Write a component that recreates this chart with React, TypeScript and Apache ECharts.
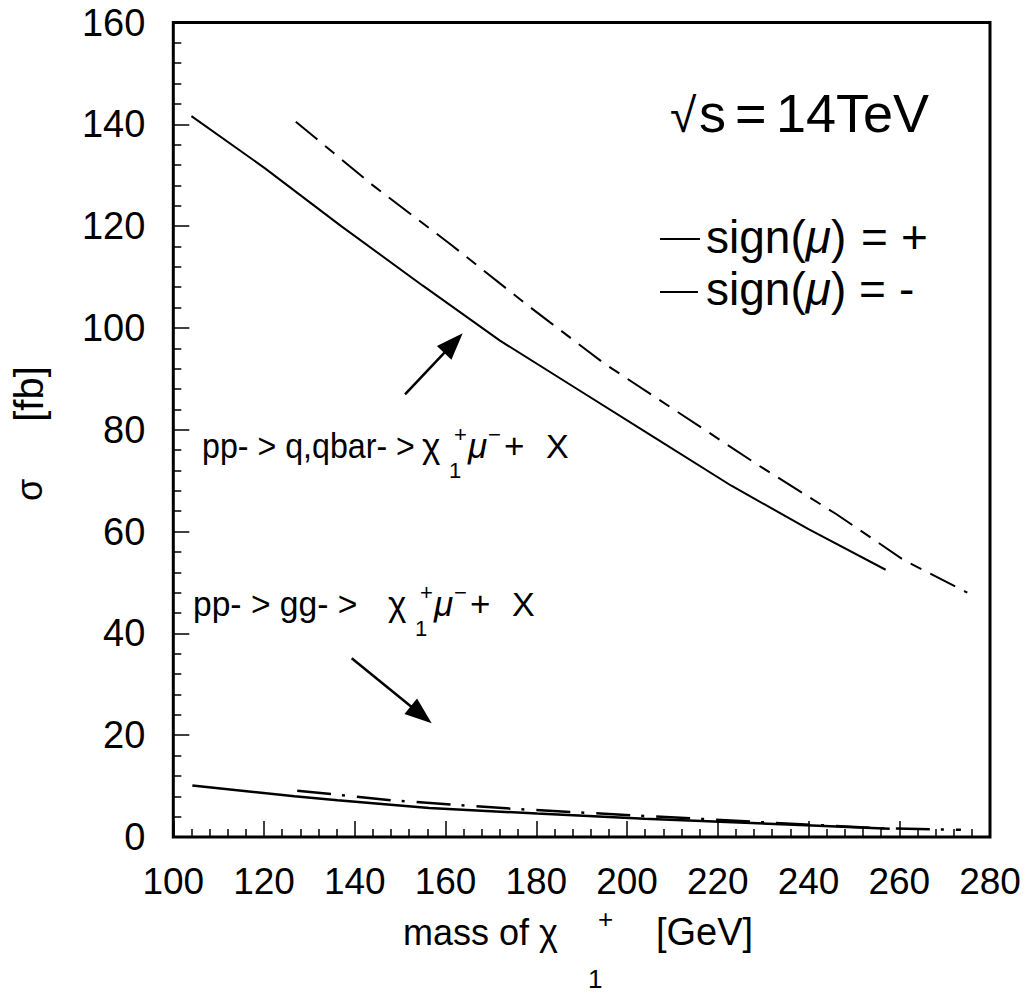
import React, { useEffect, useRef } from 'react';
import * as echarts from 'echarts';

// ---- data ----
const massQQPlus = [104, 120, 137, 155, 172, 189, 206, 223, 240, 257];
const sigmaQQPlus = [141.6, 131.5, 120, 108.3, 97.5, 88, 78.5, 69, 60.5, 52.5];
const massQQMinus = [127, 144, 161, 178, 195, 212, 229, 246, 261, 275];
const sigmaQQMinus = [140.5, 128, 116.5, 104.5, 93, 83, 73, 63.5, 54.4, 48];
const massGGPlus = [104.2, 126.7, 136.2, 156.4, 180.2, 203.9, 220.5, 239.5, 257.9];
const sigmaGGPlus = [10.1, 8.0, 7.2, 5.7, 4.6, 3.6, 3.0, 2.3, 1.6];
const massGGMinus = [127.3, 148.3, 175.4, 202.7, 229.7, 256.7, 273.6];
const sigmaGGMinus = [9.1, 7.2, 5.5, 4.2, 2.9, 1.7, 1.4];

const xMin = 100, xMax = 280, xStep = 20;
const yMin = 0, yMax = 160, yStep = 20;

// annotation arrows in data coordinates [start, end]
const arrowQQ = [[151.07, 86.97], [161.74, 97.02]];
const arrowGG = [[139.32, 35.1], [154.64, 24.0]];

const FONT = "'Liberation Sans', Arial, Helvetica, sans-serif";

const zip = (a: number[], b: number[]) => a.map((v, i) => [v, b[i]]);

let ctx: CanvasRenderingContext2D | null = null;
function measure(t: string, fs: number, italic = false) {
  if (!ctx) ctx = document.createElement('canvas').getContext('2d');
  if (!ctx) return t.length * fs * 0.55;
  ctx.font = `${italic ? 'italic ' : ''}${fs}px ${FONT}`;
  return ctx.measureText(t).width;
}

function txt(t: string, x: number, base: number, fs: number, italic = false, sx = 1) {
  return {
    type: 'text',
    x,
    y: base - 0.3465 * fs,
    scaleX: sx,
    silent: true,
    style: {
      text: t,
      fontSize: fs,
      fontFamily: FONT,
      fontStyle: italic ? 'italic' : 'normal',
      fill: '#000',
      textAlign: 'left',
      textVerticalAlign: 'middle',
    },
  };
}

type Run = { t: string; fs: number; dy?: number; gap?: number; italic?: boolean; at?: number; sx?: number };
function runs(x0: number, base: number, list: Run[]) {
  let x = x0;
  const out: any[] = [];
  for (const r of list) {
    if (r.at !== undefined) x = r.at;
    x += r.gap ?? 0;
    const sx = r.sx ?? 1;
    out.push(txt(r.t, x, base + (r.dy ?? 0), r.fs, !!r.italic, sx));
    x += measure(r.t, r.fs, !!r.italic) * sx;
  }
  return out;
}

// process label: main text, then chi_1^+ mu^- + X placed relative to chi
function processLabel(x0: number, base: number, head: string, sx: number, chiX: number) {
  return [
    ...runs(x0, base, [{ t: head, fs: 35, sx }]),
    ...runs(0, base, [
      { t: 'χ', fs: 35, at: chiX },
      { t: '1', fs: 22, at: chiX + 27, dy: 20 },
      { t: '+', fs: 22, at: chiX + 32, dy: -16 },
      { t: 'μ', fs: 35, italic: true, at: chiX + 46 },
      { t: '−', fs: 22, at: chiX + 66, dy: -16 },
      { t: '+', fs: 35, at: chiX + 82 },
      { t: 'X', fs: 34, at: chiX + 124 },
    ]),
  ];
}

export default function App() {
  const ref = useRef<HTMLDivElement>(null);
  useEffect(() => {
    if (!ref.current) return;
    const chart = echarts.init(ref.current, undefined, { renderer: 'svg' });

    const graphics: any[] = [
      // sqrt(s) = 14 TeV
      ...runs(0, 132, [
        { t: '√', fs: 48, at: 670 },
        { t: 's', fs: 54, at: 699 },
        { t: '=', fs: 54, at: 735 },
        { t: '14TeV', fs: 54, at: 776 },
      ]),
      // legend
      { type: 'line', silent: true, shape: { x1: 660, y1: 239, x2: 700, y2: 239 }, style: { stroke: '#000', lineWidth: 2 } },
      { type: 'line', silent: true, shape: { x1: 660, y1: 292, x2: 698, y2: 292 }, style: { stroke: '#000', lineWidth: 2 } },
      ...runs(706, 253, [
        { t: 'sign(', fs: 46 },
        { t: 'μ', fs: 46, italic: true },
        { t: ')', fs: 46 },
        { t: '=', fs: 46, at: 861 },
        { t: '+', fs: 46, at: 901 },
      ]),
      ...runs(706, 305, [
        { t: 'sign(', fs: 46 },
        { t: 'μ', fs: 46, italic: true },
        { t: ')', fs: 46 },
        { t: '=', fs: 46, at: 859 },
        { t: '-', fs: 46, at: 899 },
      ]),
      // process annotations
      ...processLabel(202, 458, 'pp- > q,qbar- >', 0.92, 422),
      ...processLabel(193, 616, 'pp- > gg- >', 0.96, 388),
      // x axis title
      ...runs(403, 945, [
        { t: 'mass of χ', fs: 36 },
        { t: '1', fs: 26, at: 588, dy: 43 },
        { t: '+', fs: 26, at: 598, dy: -17 },
        { t: '[GeV]', fs: 38, at: 656 },
      ]),
      // y axis title (rotated)
      {
        type: 'text', x: 29, y: 394, rotation: Math.PI / 2, silent: true,
        style: { text: '[fb]', fontSize: 40, fontFamily: FONT, fill: '#000', textAlign: 'center', textVerticalAlign: 'middle' },
      },
      {
        type: 'text', x: 29, y: 490, rotation: Math.PI / 2, silent: true,
        style: { text: 'σ', fontSize: 36, fontFamily: FONT, fill: '#000', textAlign: 'center', textVerticalAlign: 'middle' },
      },
    ];

    const tickStyle = { color: '#000', width: 1.5 };
    const option: any = {
      animation: false,
      backgroundColor: '#fff',
      grid: {
        left: 173.3, right: 38, top: 22.5, bottom: 158,
        show: true, borderColor: '#000', borderWidth: 3, backgroundColor: 'transparent',
      },
      xAxis: {
        type: 'value', min: xMin, max: xMax, interval: xStep,
        axisLine: { show: false },
        axisTick: { show: true, inside: true, length: 16, lineStyle: tickStyle },
        minorTick: { show: true, splitNumber: 5, length: 8, lineStyle: tickStyle },
        splitLine: { show: false },
        axisLabel: { margin: 26, fontSize: 37, fontFamily: FONT, color: '#000' },
      },
      yAxis: {
        type: 'value', min: yMin, max: yMax, interval: yStep,
        axisLine: { show: false },
        axisTick: { show: true, inside: true, length: 16, lineStyle: tickStyle },
        minorTick: { show: true, splitNumber: 5, length: 8, lineStyle: tickStyle },
        splitLine: { show: false },
        axisLabel: { margin: 28, fontSize: 38, fontFamily: FONT, color: '#000' },
      },
      series: [
        {
          name: 'qq sign+', type: 'line', data: zip(massQQPlus, sigmaQQPlus), symbol: 'none', silent: true,
          lineStyle: { color: '#000', width: 2 },
          markLine: {
            silent: true, symbol: ['none', 'triangle'], symbolSize: [20, 27],
            label: { show: false },
            lineStyle: { color: '#000', width: 2.5, type: 'solid' },
            data: [
              [{ coord: arrowQQ[0] }, { coord: arrowQQ[1] }],
              [{ coord: arrowGG[0] }, { coord: arrowGG[1] }],
            ],
          },
        },
        {
          name: 'qq sign-', type: 'line', data: zip(massQQMinus, sigmaQQMinus), symbol: 'none', silent: true,
          lineStyle: { color: '#000', width: 2, type: [28, 10, 12, 10] },
        },
        {
          name: 'gg sign+', type: 'line', data: zip(massGGPlus, sigmaGGPlus), symbol: 'none', silent: true,
          lineStyle: { color: '#000', width: 2.5 },
        },
        {
          name: 'gg sign-', type: 'line', data: zip(massGGMinus, sigmaGGMinus), symbol: 'none', silent: true,
          lineStyle: { color: '#000', width: 2.5, type: [34, 11, 3, 12] },
        },
      ],
      graphic: graphics,
    };
    chart.setOption(option);
    return () => chart.dispose();
  }, []);
  return <div ref={ref} style={{ position: 'fixed', left: 0, top: 0, width: 1028, height: 995, background: '#fff' }} />;
}
